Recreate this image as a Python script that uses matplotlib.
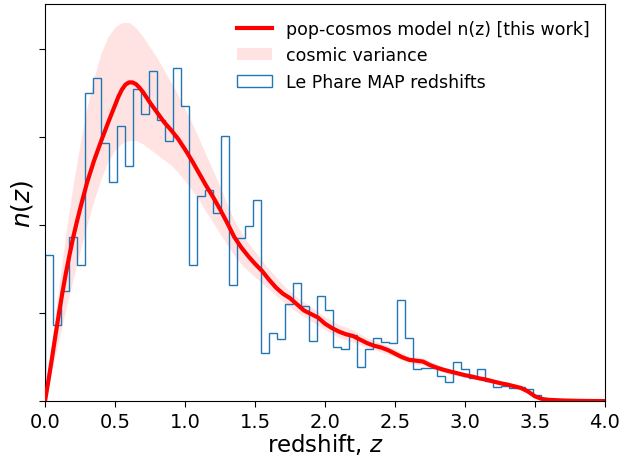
import numpy as np
import matplotlib
matplotlib.use("Agg")
import matplotlib.pyplot as plt

# Histogram (Le Phare MAP redshifts): 70 bins from 0 to 4
hist_edges_range = (0.0, 4.0)
hist_nbins = 70
hist_heights = [
    1.66, 0.86, 1.25, 1.86, 1.55, 3.50, 3.67, 2.93, 2.49, 3.13,
    2.67, 3.55, 3.26, 3.75, 3.19, 2.95, 3.78, 3.35, 1.55, 2.33,
    2.40, 2.14, 3.01, 1.32, 1.85, 1.99, 2.29, 0.55, 0.77, 0.71,
    1.10, 1.34, 1.08, 0.68, 1.20, 1.04, 0.61, 0.59, 0.75, 0.39,
    0.59, 0.72, 0.67, 0.66, 1.15, 0.72, 0.37, 0.38, 0.38, 0.29,
    0.22, 0.45, 0.37, 0.26, 0.37, 0.23, 0.16, 0.17, 0.15, 0.16,
    0.14, 0.065, 0.03, 0.02, 0.015, 0.01, 0.01, 0.005, 0.0, 0.0,
]

# pop-cosmos model n(z)
model_z = [0.00, 0.025, 0.05, 0.075, 0.10, 0.125, 0.15, 0.175, 0.20, 0.225,
           0.25, 0.30, 0.35, 0.40, 0.45, 0.50, 0.525, 0.55, 0.575, 0.60,
           0.625, 0.65, 0.675, 0.70, 0.75, 0.80, 0.85, 0.90, 0.95,
           1.00, 1.05, 1.10, 1.15, 1.20, 1.25, 1.30, 1.35, 1.40, 1.45,
           1.50, 1.55, 1.60, 1.65, 1.70, 1.75, 1.80, 1.85, 1.90, 1.95,
           2.00, 2.05, 2.10, 2.15, 2.20, 2.25, 2.30, 2.35, 2.40, 2.45,
           2.50, 2.55, 2.60, 2.65, 2.70, 2.75, 2.80, 2.85, 2.90, 2.95,
           3.00, 3.05, 3.10, 3.15, 3.20, 3.25, 3.30, 3.35, 3.40, 3.45,
           3.50, 3.55, 3.60, 3.70, 3.80, 3.90, 4.00]
model_n = [0.00, 0.24, 0.49, 0.75, 1.00, 1.24, 1.46, 1.66, 1.85, 2.02,
           2.18, 2.48, 2.73, 2.95, 3.16, 3.36, 3.46, 3.54, 3.595, 3.62,
           3.62, 3.60, 3.56, 3.51, 3.39, 3.28, 3.17, 3.08, 2.98,
           2.86, 2.73, 2.59, 2.45, 2.32, 2.18, 2.03, 1.87, 1.75, 1.65,
           1.56, 1.48, 1.38, 1.29, 1.22, 1.17, 1.10, 1.03, 0.99, 0.95,
           0.88, 0.83, 0.79, 0.76, 0.74, 0.70, 0.66, 0.63, 0.61, 0.58,
           0.54, 0.50, 0.47, 0.46, 0.45, 0.41, 0.38, 0.355, 0.335, 0.315,
           0.295, 0.28, 0.26, 0.245, 0.225, 0.205, 0.19, 0.17, 0.15, 0.11,
           0.055, 0.025, 0.015, 0.008, 0.004, 0.002, 0.001]

# cosmic variance band
band_z = [0.00, 0.05, 0.10, 0.15, 0.20, 0.25, 0.30, 0.35, 0.40, 0.45,
          0.50, 0.55, 0.60, 0.65, 0.70, 0.75, 0.80, 0.85, 0.90, 0.95,
          1.00, 1.05, 1.10, 1.15, 1.20, 1.25, 1.30, 1.35, 1.40, 1.45,
          1.50, 1.60, 1.70, 1.80, 1.90, 2.00, 2.10, 2.20, 2.30, 2.40,
          2.50, 2.60, 2.70, 2.80, 2.90, 3.00, 3.10, 3.20, 3.30, 3.40,
          3.50, 3.60, 4.00]
band_upper = [0.00, 0.68, 1.32, 1.92, 2.45, 2.92, 3.33, 3.68, 3.95, 4.14,
              4.25, 4.30, 4.30, 4.24, 4.14, 4.02, 3.90, 3.76, 3.62, 3.48,
              3.32, 3.16, 2.98, 2.80, 2.62, 2.44, 2.24, 2.06, 1.92, 1.80,
              1.70, 1.50, 1.32, 1.18, 1.07, 0.96, 0.87, 0.81, 0.72, 0.66,
              0.59, 0.51, 0.49, 0.42, 0.36, 0.32, 0.28, 0.24, 0.20, 0.16,
              0.07, 0.02, 0.00]
band_lower = [0.00, 0.35, 0.70, 1.05, 1.38, 1.70, 2.00, 2.28, 2.52, 2.72,
              2.85, 2.93, 2.96, 2.96, 2.92, 2.86, 2.80, 2.74, 2.68, 2.60,
              2.50, 2.40, 2.28, 2.15, 2.03, 1.90, 1.78, 1.66, 1.56, 1.48,
              1.41, 1.27, 1.13, 1.01, 0.91, 0.81, 0.72, 0.67, 0.61, 0.56,
              0.50, 0.43, 0.41, 0.35, 0.30, 0.27, 0.24, 0.20, 0.17, 0.13,
              0.04, 0.01, 0.00]

xticks = [0.0, 0.5, 1.0, 1.5, 2.0, 2.5, 3.0, 3.5, 4.0]
yticks = [0, 1, 2, 3, 4]

fig = plt.figure(figsize=(6.25, 4.56), dpi=100)
ax = fig.add_axes([0.072, 0.118, 0.896, 0.871])

edges = np.linspace(hist_edges_range[0], hist_edges_range[1], hist_nbins + 1)
centers = 0.5 * (edges[:-1] + edges[1:])

ax.plot(model_z, model_n, color='red', lw=3, solid_joinstyle='round',
        label='pop-cosmos model n(z) [this work]', zorder=3)
ax.fill_between(band_z, band_lower, band_upper, color='red', alpha=0.11, lw=0,
                label='cosmic variance', zorder=1)
ax.hist(centers, bins=edges, weights=hist_heights, histtype='step', color='#1f77b4',
        lw=1.0, label='Le Phare MAP redshifts', zorder=2)

ax.set_xlim(0, 4)
ax.set_ylim(0, 4.51)
ax.set_xticks(xticks)
ax.set_xticklabels([f"{t:.1f}" for t in xticks])
ax.set_yticks(yticks)
ax.set_yticklabels([])
ax.tick_params(axis='both', labelsize=14, length=4)
ax.set_xlabel('redshift, $z$', fontsize=16.5, labelpad=0)
ax.set_ylabel('$n(z)$', fontsize=18, labelpad=0)

ax.legend(loc='upper right', frameon=False, fontsize=12.5, handlelength=2.0)

fig.savefig('out.png', dpi=100)
